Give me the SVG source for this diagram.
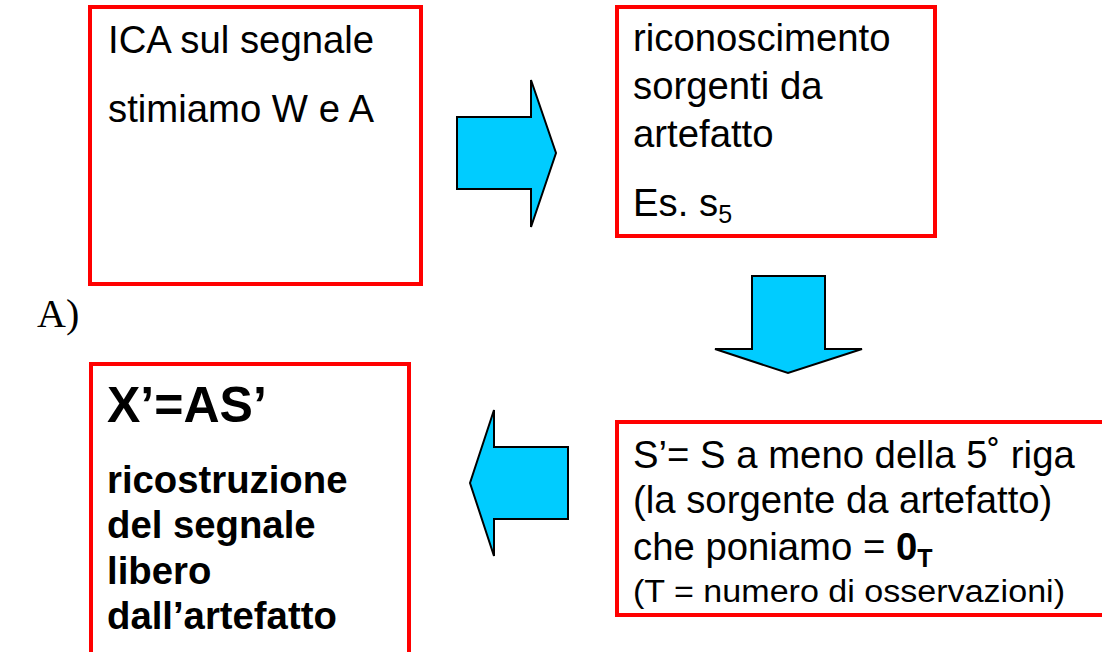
<svg xmlns="http://www.w3.org/2000/svg" width="1102" height="652" viewBox="0 0 1102 652">
<style>
.box{fill:#fff;stroke:#ff0000;stroke-width:4}
.arr{fill:#00ccff;stroke:#000;stroke-width:2;stroke-linejoin:miter}
.t{font-family:"Liberation Sans",Arial,sans-serif;font-size:38.3px;fill:#000}
.b{font-weight:bold}
.sub{font-size:25px}
</style>
<rect width="1102" height="652" fill="#fff"/>
<g id="box1">
<rect class="box" x="90" y="7" width="331" height="277"/>
<text class="t" x="108" y="53">ICA sul segnale</text>
<text class="t" x="108" y="122">stimiamo W e A</text>
</g>
<g id="box2">
<rect class="box" x="617" y="7" width="318" height="229"/>
<text class="t" x="633" y="51">riconoscimento</text>
<text class="t" x="633" y="99">sorgenti da</text>
<text class="t" x="633" y="147">artefatto</text>
<text class="t" x="633" y="216">Es. s<tspan class="sub" dy="7">5</tspan></text>
</g>
<g id="box3">
<rect class="box" x="91" y="364" width="318" height="300"/>
<text class="t b" x="107" y="422" style="font-size:50px">X’=AS’</text>
<text class="t b" x="107" y="493">ricostruzione</text>
<text class="t b" x="107" y="538">del segnale</text>
<text class="t b" x="107" y="584">libero</text>
<text class="t b" x="107" y="629">dall’artefatto</text>
</g>
<g id="box4">
<rect class="box" x="617" y="422" width="500" height="193"/>
<text class="t" x="633" y="468">S’= S a meno della 5˚ riga</text>
<text class="t" x="633" y="513">(la sorgente da artefatto)</text>
<text class="t" x="633" y="560">che poniamo = <tspan class="b">0</tspan><tspan class="b sub" dy="7">T</tspan></text>
<text class="t" x="633" y="602" style="font-size:31px" textLength="432" lengthAdjust="spacingAndGlyphs">(T = numero di osservazioni)</text>
</g>
<text id="labelA" x="37" y="327" font-family="Liberation Serif,'Times New Roman',serif" font-size="40" fill="#000">A)</text>
<g id="connectors">
<polygon class="arr" points="457,117 531,117 531,80 556,153 531,227 531,189 457,189"/>
<polygon class="arr" points="752,276 825,276 825,349 862,349 788,373 715,349 752,349"/>
<polygon class="arr" points="568,447 494,447 494,410 470,483 494,556 494,519 568,519"/>
</g>
</svg>
